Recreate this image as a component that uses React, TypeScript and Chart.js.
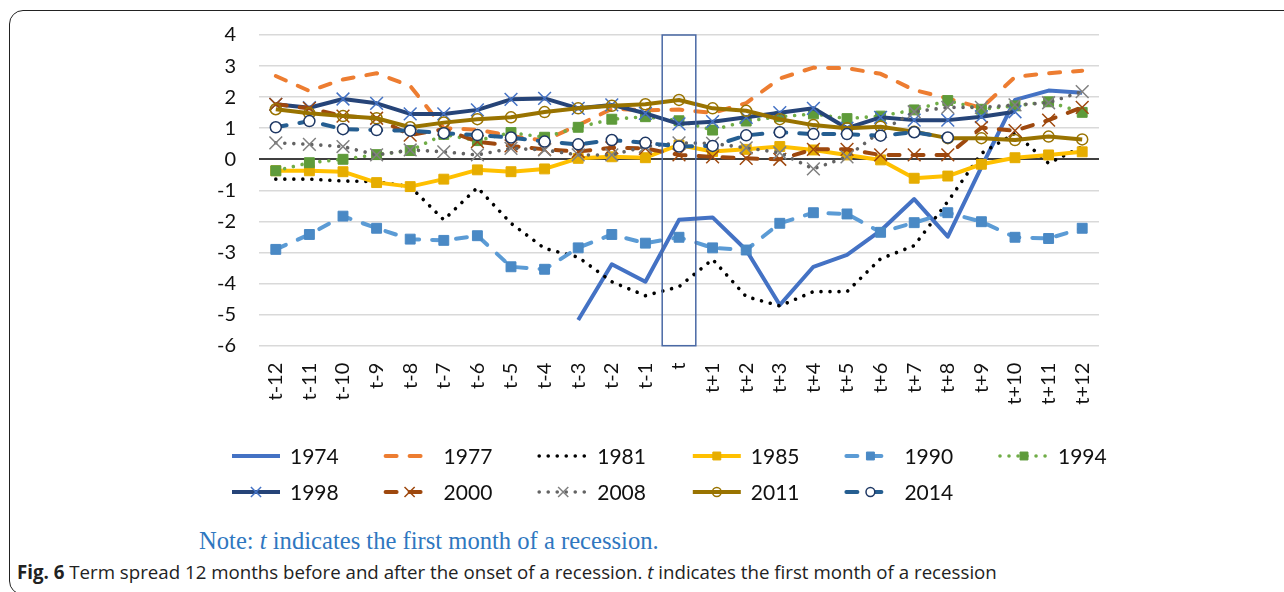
import React, { useEffect, useRef } from 'react';
import { Chart, registerables } from 'chart.js';
import { drawPoint } from 'chart.js/helpers';

Chart.register(...registerables);

const labels = [
  't-12', 't-11', 't-10', 't-9', 't-8', 't-7', 't-6', 't-5', 't-4', 't-3', 't-2', 't-1',
  't',
  't+1', 't+2', 't+3', 't+4', 't+5', 't+6', 't+7', 't+8', 't+9', 't+10', 't+11', 't+12',
];

const yMin = -6;
const yMax = 4;

const s1974 = [null, null, null, null, null, null, null, null, null, -5.17, -3.38, -3.94, -1.95, -1.87, -2.92, -4.69, -3.46, -3.08, -2.3, -1.28, -2.49, -0.25, 1.91, 2.21, 2.14];
const s1977 = [2.68, 2.2, 2.57, 2.77, 2.36, 1.0, 0.95, 0.75, 0.6, 1.1, 1.62, 1.58, 1.6, 1.49, 1.81, 2.6, 2.95, 2.93, 2.75, 2.23, 1.96, 1.65, 2.65, 2.77, 2.85];
const s1981 = [-0.64, -0.64, -0.7, -0.72, -0.88, -1.95, -0.91, -2.06, -2.87, -3.15, -3.94, -4.39, -4.1, -3.22, -4.42, -4.72, -4.26, -4.26, -3.2, -2.78, -1.36, 0.19, 0.84, -0.13, 0.41];
const s1985 = [-0.37, -0.37, -0.4, -0.75, -0.88, -0.64, -0.34, -0.4, -0.31, 0.03, 0.08, 0.05, 0.46, 0.25, 0.32, 0.41, 0.3, 0.14, -0.02, -0.61, -0.54, -0.16, 0.05, 0.14, 0.24];
const s1990 = [-2.9, -2.42, -1.83, -2.22, -2.57, -2.61, -2.46, -3.46, -3.54, -2.85, -2.42, -2.7, -2.51, -2.85, -2.92, -2.06, -1.72, -1.76, -2.35, -2.04, -1.72, -2.01, -2.51, -2.55, -2.22];
const s1994 = [-0.37, -0.11, 0.0, 0.15, 0.28, 0.8, 0.6, 0.86, 0.71, 1.03, 1.29, 1.37, 1.24, 0.94, 1.23, 1.37, 1.46, 1.31, 1.39, 1.59, 1.89, 1.61, 1.72, 1.85, 1.51];
const s1998 = [1.77, 1.66, 1.94, 1.8, 1.46, 1.46, 1.59, 1.93, 1.96, 1.64, 1.75, 1.48, 1.14, 1.21, 1.35, 1.5, 1.64, 1.0, 1.35, 1.26, 1.26, 1.37, 1.53, null, null];
const s2000 = [1.77, 1.64, 1.39, 1.32, 0.78, 0.97, 0.57, 0.43, 0.32, 0.25, 0.37, 0.35, 0.14, 0.08, 0.03, 0.0, 0.32, 0.32, 0.14, 0.14, 0.14, 1.02, 0.92, 1.26, 1.67];
const s2008 = [0.53, 0.48, 0.41, 0.14, 0.3, 0.24, 0.14, 0.35, 0.3, 0.14, 0.14, 0.41, 0.53, 0.51, 0.37, 0.21, -0.31, 0.08, 0.9, 1.53, 1.67, 1.67, 1.75, 1.82, 2.18];
const s2011 = [1.61, 1.48, 1.39, 1.32, 1.03, 1.18, 1.29, 1.35, 1.52, 1.64, 1.72, 1.77, 1.91, 1.64, 1.56, 1.29, 1.1, 1.0, 1.05, 0.89, 0.68, 0.68, 0.62, 0.73, 0.64];
const s2014 = [1.03, 1.23, 0.97, 0.94, 0.92, 0.84, 0.78, 0.7, 0.57, 0.48, 0.62, 0.53, 0.41, 0.43, 0.77, 0.87, 0.81, 0.81, 0.76, 0.87, 0.7, null, null, null, null];

const seriesNames = ['1974', '1977', '1981', '1985', '1990', '1994', '1998', '2000', '2008', '2011', '2014'];
const seriesValues = [s1974, s1977, s1981, s1985, s1990, s1994, s1998, s2000, s2008, s2011, s2014];

const DASH = [11, 13];
const DOT = [0.01, 9];

type SeriesStyle = {
  color: string;
  dash: number[];
  cap: 'butt' | 'round';
  width: number;
  pointStyle: string | false;
  radius: number;
  pointBg: string;
  pointBorder: string;
  pointBorderWidth: number;
};

const styles: SeriesStyle[] = [
  { color: '#4472c4', dash: [], cap: 'butt', width: 4, pointStyle: false, radius: 0, pointBg: '#4472c4', pointBorder: '#4472c4', pointBorderWidth: 0 },
  { color: '#ed7d31', dash: DASH, cap: 'round', width: 4, pointStyle: false, radius: 0, pointBg: '#ed7d31', pointBorder: '#ed7d31', pointBorderWidth: 0 },
  { color: '#000000', dash: DOT, cap: 'round', width: 3.6, pointStyle: false, radius: 0, pointBg: '#000', pointBorder: '#000', pointBorderWidth: 0 },
  { color: '#ffc000', dash: [], cap: 'butt', width: 4, pointStyle: 'rect', radius: 7, pointBg: '#e6ad00', pointBorder: '#e6ad00', pointBorderWidth: 1 },
  { color: '#5b9bd5', dash: DASH, cap: 'round', width: 4, pointStyle: 'rect', radius: 7, pointBg: '#4a89c5', pointBorder: '#4a89c5', pointBorderWidth: 1 },
  { color: '#70ad47', dash: DOT, cap: 'round', width: 3.6, pointStyle: 'rect', radius: 7, pointBg: '#5e9b3a', pointBorder: '#5e9b3a', pointBorderWidth: 1 },
  { color: '#264478', dash: [], cap: 'butt', width: 4, pointStyle: 'crossRot', radius: 9, pointBg: '#4472c4', pointBorder: '#4472c4', pointBorderWidth: 1.5 },
  { color: '#9e480e', dash: DASH, cap: 'round', width: 4, pointStyle: 'crossRot', radius: 9, pointBg: '#9e480e', pointBorder: '#9e480e', pointBorderWidth: 1.5 },
  { color: '#636363', dash: DOT, cap: 'round', width: 3.6, pointStyle: 'crossRot', radius: 9, pointBg: '#808080', pointBorder: '#808080', pointBorderWidth: 1.5 },
  { color: '#997300', dash: [], cap: 'butt', width: 4, pointStyle: 'circle', radius: 5.5, pointBg: 'rgba(0,0,0,0)', pointBorder: '#997300', pointBorderWidth: 1.5 },
  { color: '#255e91', dash: DASH, cap: 'round', width: 4, pointStyle: 'circle', radius: 5.5, pointBg: '#ffffff', pointBorder: '#1f3864', pointBorderWidth: 1.5 },
];

const legendPlugin = {
  id: 'gridLegend',
  afterDraw(chart: any) {
    const ctx = chart.ctx;
    chart.data.datasets.forEach((ds: any, i: number) => {
      const st = styles[i];
      const col = i % 6;
      const row = Math.floor(i / 6);
      const x0 = 230 + col * 153.6;
      const y = 456 + row * 36;
      ctx.save();
      ctx.strokeStyle = st.color;
      ctx.lineWidth = st.width;
      ctx.setLineDash(st.dash);
      ctx.lineCap = st.cap;
      ctx.beginPath();
      ctx.moveTo(x0 + 2, y);
      ctx.lineTo(x0 + 50, y);
      ctx.stroke();
      if (st.pointStyle) {
        ctx.setLineDash([]);
        ctx.lineCap = 'butt';
        ctx.fillStyle = st.pointBg;
        ctx.strokeStyle = st.pointBorder;
        ctx.lineWidth = st.pointBorderWidth;
        drawPoint(ctx, { pointStyle: st.pointStyle, radius: st.radius * 0.8, rotation: 0, borderWidth: st.pointBorderWidth }, x0 + 26, y);
      }
      ctx.fillStyle = '#111';
      ctx.font = '21px Lato';
      ctx.textBaseline = 'middle';
      ctx.textAlign = 'left';
      ctx.fillText(ds.label, x0 + 60, y + 1);
      ctx.restore();
    });
  },
};

const boxPlugin = {
  id: 'tBox',
  afterDatasetsDraw(chart: any) {
    const xs = chart.scales.x;
    const ys = chart.scales.y;
    const idx = labels.indexOf('t');
    const half = (xs.getPixelForValue(1) - xs.getPixelForValue(0)) / 2;
    const cx = xs.getPixelForValue(idx);
    const top = ys.getPixelForValue(yMax);
    const bottom = ys.getPixelForValue(yMin);
    const ctx = chart.ctx;
    ctx.save();
    ctx.strokeStyle = '#4a69a5';
    ctx.lineWidth = 1.5;
    ctx.setLineDash([]);
    ctx.strokeRect(cx - half, top, 2 * half, bottom - top);
    ctx.restore();
  },
};

export default function App() {
  const ref = useRef<HTMLCanvasElement | null>(null);

  useEffect(() => {
    if (!ref.current) return;
    const datasets = seriesNames.map((name, i) => {
      const st = styles[i];
      return {
        label: name,
        data: seriesValues[i],
        borderColor: st.color,
        backgroundColor: st.color,
        borderWidth: st.width,
        borderDash: st.dash,
        borderCapStyle: st.cap,
        borderJoinStyle: 'round',
        pointStyle: st.pointStyle,
        pointRadius: st.radius,
        pointBackgroundColor: st.pointBg,
        pointBorderColor: st.pointBorder,
        pointBorderWidth: st.pointBorderWidth,
        tension: 0,
        spanGaps: false,
        fill: false,
        order: seriesNames.length - i,
      };
    });
    const chart = new Chart(ref.current, {
      type: 'line',
      data: { labels, datasets: datasets as any },
      options: {
        animation: false,
        responsive: false,
        devicePixelRatio: 1,
        layout: { padding: { left: 0, top: 35, right: 185, bottom: 74.3 } },
        plugins: {
          legend: { display: false },
          tooltip: { enabled: false },
        },
        scales: {
          x: {
            type: 'category',
            offset: true,
            grid: { display: false, drawTicks: false },
            border: { display: false },
            ticks: {
              autoSkip: false,
              minRotation: 90,
              maxRotation: 90,
              padding: 17,
              color: '#111',
              font: { family: 'Lato', size: 20 },
            },
            afterFit: (scale: any) => { scale.height = 100; },
          },
          y: {
            type: 'linear',
            min: yMin,
            max: yMax,
            ticks: {
              stepSize: 1,
              padding: 23,
              color: '#111',
              font: { family: 'Lato', size: 20 },
            },
            grid: {
              drawTicks: false,
              color: (c: any) => (c.tick && c.tick.value === 0 ? '#404040' : '#d9d9d9'),
              lineWidth: (c: any) => (c.tick && c.tick.value === 0 ? 2 : 1.5),
            },
            border: { display: false },
            afterFit: (scale: any) => { scale.width = 259; },
          },
        },
      },
      plugins: [boxPlugin, legendPlugin],
    });
    return () => chart.destroy();
  }, []);

  return (
    <div style={{ position: 'fixed', left: 0, top: 0, width: 1284, height: 592, overflow: 'hidden', background: '#fff' }}>
      <div style={{ position: 'absolute', left: 9, top: 10, width: 1400, height: 583, border: '1.5px solid #222', borderRadius: 14 }} />
      <canvas ref={ref} width={1284} height={520} style={{ position: 'absolute', left: 0, top: 0, width: 1284, height: 520 }} />
      <div style={{ position: 'absolute', left: 199, top: 526, fontFamily: '"Liberation Serif", serif', fontSize: 24.6, color: '#2f77c0', whiteSpace: 'nowrap', lineHeight: '30px' }}>
        Note: <i>t</i> indicates the first month of a recession.
      </div>
      <div style={{ position: 'absolute', left: 17, top: 559, fontFamily: '"Open Sans", sans-serif', fontSize: 18.7, color: '#222', whiteSpace: 'nowrap', lineHeight: '26px' }}>
        <b>Fig. 6</b> Term spread 12 months before and after the onset of a recession. <i>t</i> indicates the first month of a recession
      </div>
    </div>
  );
}
